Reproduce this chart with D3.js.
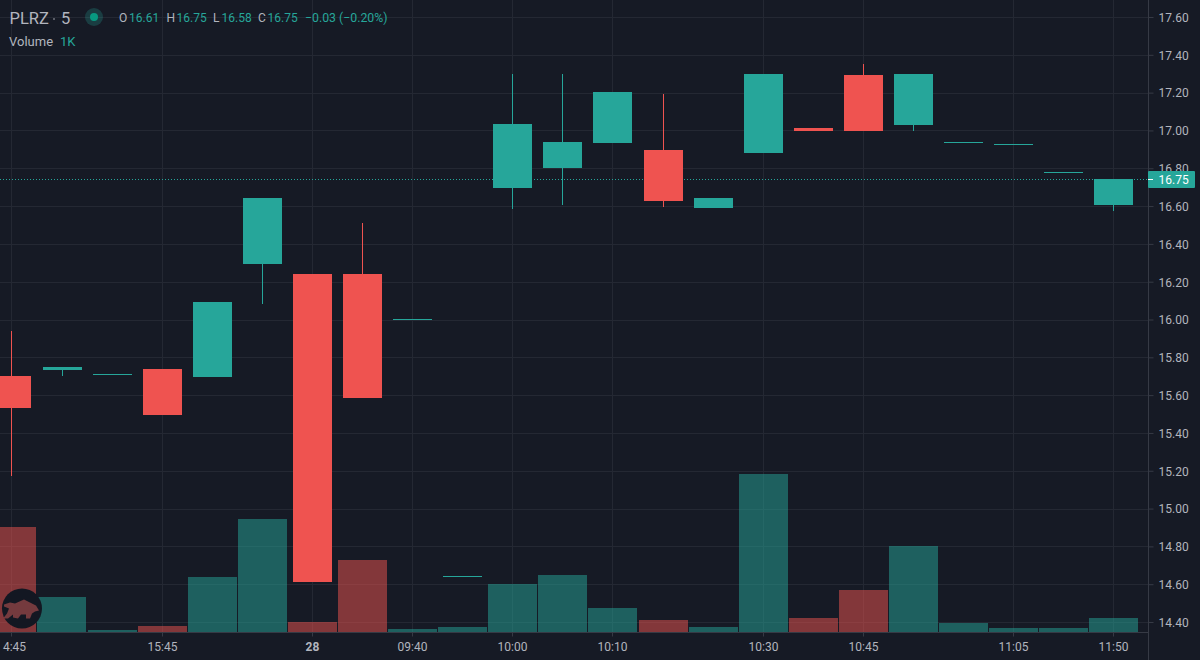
<!DOCTYPE html>
<html>
<head>
<meta charset="utf-8">
<script src="https://cdn.jsdelivr.net/npm/d3@7"></script>
<style>
  html, body { margin: 0; padding: 0; background: #161a25; overflow: hidden; }
  text { font-family: Roboto, sans-serif; }
</style>
</head>
<body>
<div id="chart-area"></div>
<script>
const width = 1200;
const height = 660;

// one entry per 5 minute bar
const opens  = [15.70, 15.735, 15.71, 15.74, 15.695, 16.295, 16.24, 16.24, 16.005, 14.645, 16.695, 16.80, 16.935, 16.895, 16.59, 16.88, 17.015, 17.295, 17.03, 16.94, 16.93, 16.78, 16.605];
const closes = [15.53, 15.75, 15.71, 15.495, 16.09, 16.645, 14.61, 15.585, 16.005, 14.645, 17.035, 16.94, 17.205, 16.625, 16.645, 17.30, 16.995, 16.995, 17.30, 16.94, 16.93, 16.78, 16.743];
const highs  = [15.94, 15.75, 15.71, 15.74, 16.09, 16.645, 16.24, 16.51, 16.005, 14.645, 17.30, 17.30, 17.205, 17.195, 16.645, 17.30, 17.015, 17.35, 17.30, 16.94, 16.93, 16.78, 16.743];
const lows   = [15.17, 15.70, 15.71, 15.495, 15.695, 16.08, 14.61, 15.585, 16.005, 14.645, 16.585, 16.605, 16.935, 16.595, 16.59, 16.88, 16.995, 16.995, 16.995, 16.94, 16.93, 16.78, 16.575];
const volumes = [7500, 2500, 150, 430, 3950, 8100, 700, 5150, 200, 350, 3420, 4100, 1700, 850, 350, 11300, 1000, 3000, 6150, 650, 300, 300, 1000];

const priceTicks = [14.4, 14.6, 14.8, 15.0, 15.2, 15.4, 15.6, 15.8, 16.0, 16.2, 16.4, 16.6, 16.8, 17.0, 17.2, 17.4, 17.6];
const timeTickBars = [0, 3, 6, 8, 10, 12, 15, 17, 20, 22];
const timeTickLabels = ["4:45", "15:45", "28", "09:40", "10:00", "10:10", "10:30", "10:45", "11:05", "11:50"];
const lastPrice = 16.743;
const lastPriceLabel = "16.75";

const legendLetters = ["O", "H", "L", "C"];
const legendValues = ["16.61", "16.75", "16.58", "16.75"];
const legendChange = "\u22120.03 (\u22120.20%)";

const upColor = "#26a69a";
const downColor = "#ef5350";
const gridColor = "#242833";
const axisColor = "#363a45";
const labelColor = "#b2b5be";

const bars = opens.map((o, i) => ({
    i: i, open: o, close: closes[i], high: highs[i], low: lows[i], volume: volumes[i]
}));

const svg = d3.select("#chart-area")
    .append("svg")
    .attr("width", width)
    .attr("height", height)
    .style("display", "block");

svg.append("rect").attr("width", width).attr("height", height).attr("fill", "#161a25");

const plotRight = 1148;
const plotBottom = 632;

const x = d3.scaleLinear().domain([0, 22]).range([11.915, 1113.895]);
const y = d3.scaleLinear().domain([14.4, 17.6]).range([622, 17]);
const yVolume = d3.scaleLinear().domain([0, 11300]).range([plotBottom, 474]);

const bodyWidth = 39;
const volumeWidth = 49;

// everything snaps to whole pixels like the canvas original
const bodyLeft = d => Math.round(x(d) - bodyWidth / 2);
const barMid = d => bodyLeft(d) + 19.5;
const py = v => Math.round(y(v));

function barColor(d) {
    return d.close >= d.open ? upColor : downColor;
}

// grid
const grid = svg.append("g").attr("shape-rendering", "crispEdges");
grid.selectAll(".hgrid")
    .data(priceTicks)
    .enter()
    .append("line")
    .attr("x1", 0)
    .attr("x2", plotRight)
    .attr("y1", d => py(d) + 0.5)
    .attr("y2", d => py(d) + 0.5)
    .attr("stroke", gridColor);
grid.selectAll(".vgrid")
    .data(timeTickBars)
    .enter()
    .append("line")
    .attr("x1", d => barMid(d))
    .attr("x2", d => barMid(d))
    .attr("y1", 0)
    .attr("y2", plotBottom)
    .attr("stroke", gridColor);

// volume
svg.append("g")
    .attr("shape-rendering", "crispEdges")
    .selectAll("rect")
    .data(bars)
    .enter()
    .append("rect")
    .attr("x", d => Math.round(x(d.i) - volumeWidth / 2 - 0.05))
    .attr("y", d => Math.round(yVolume(d.volume)))
    .attr("width", volumeWidth)
    .attr("height", d => plotBottom - Math.round(yVolume(d.volume)))
    .attr("fill", d => d.close >= d.open ? upColor : downColor)
    .attr("opacity", 0.5);

// last price line
svg.append("line")
    .attr("x1", 0)
    .attr("x2", plotRight)
    .attr("y1", py(lastPrice) + 0.5)
    .attr("y2", py(lastPrice) + 0.5)
    .attr("stroke", upColor)
    .attr("stroke-dasharray", "1 2");

// wicks
svg.append("g")
    .attr("shape-rendering", "crispEdges")
    .selectAll("rect")
    .data(bars)
    .enter()
    .append("rect")
    .attr("x", d => barMid(d.i) - 0.5)
    .attr("y", d => py(d.high))
    .attr("width", 1)
    .attr("height", d => py(d.low) - py(d.high))
    .attr("fill", barColor);

// bodies, a flat bar still shows a 1px line
svg.append("g")
    .attr("shape-rendering", "crispEdges")
    .selectAll("rect")
    .data(bars)
    .enter()
    .append("rect")
    .attr("x", d => bodyLeft(d.i))
    .attr("y", d => py(Math.max(d.open, d.close)))
    .attr("width", bodyWidth)
    .attr("height", d => Math.max(1, py(Math.min(d.open, d.close)) - py(Math.max(d.open, d.close))))
    .attr("fill", barColor);

// logo
const logo = svg.append("g").attr("transform", "translate(22, 608.5)");
logo.append("circle").attr("r", 20).attr("fill", "#131722");
logo.append("path")
    .attr("d", "M-18,-4 L-12,-6 L-7,-5 L2,-9 L8,-6 L14,-3 L17,2 L13,3 L10,5 L8,10 L4,10 L4,6 L-1,6 L-4,10 L-9,9 L-9,6 L-14,10 L-19,10 L-15,5 L-13,0 L-18,-2 Z")
    .attr("fill", "#743a3e");

// axes panel
svg.append("rect").attr("x", plotRight).attr("y", 0).attr("width", width - plotRight).attr("height", height).attr("fill", "#161a25");
svg.append("rect").attr("x", 0).attr("y", plotBottom).attr("width", width).attr("height", height - plotBottom).attr("fill", "#161a25");

const yAxis = d3.axisRight(y)
    .tickValues(priceTicks)
    .tickFormat(d3.format(".2f"))
    .tickSize(5)
    .tickPadding(5);
const yAxisG = svg.append("g")
    .attr("transform", `translate(${plotRight + 0.5}, 0)`)
    .call(yAxis);
yAxisG.select(".domain").attr("d", `M0,0V${height}`).attr("stroke", axisColor);
yAxisG.selectAll(".tick line").attr("stroke", axisColor);
yAxisG.selectAll("text")
    .attr("fill", labelColor)
    .attr("font-size", 12)
    .attr("dy", "0.36em")
    .attr("font-family", "Roboto, sans-serif");

const xAxis = d3.axisBottom(x)
    .tickValues(timeTickBars)
    .tickFormat((d, i) => timeTickLabels[i])
    .tickSize(4)
    .tickPadding(6);
const xAxisG = svg.append("g")
    .attr("transform", `translate(0, ${plotBottom + 0.5})`)
    .call(xAxis);
xAxisG.select(".domain").attr("d", `M0,0H${plotRight}`).attr("stroke", axisColor);
xAxisG.selectAll(".tick")
    .attr("transform", d => `translate(${barMid(d)}, 0)`);
xAxisG.selectAll(".tick line").attr("stroke", axisColor);
xAxisG.selectAll("text")
    .attr("fill", labelColor)
    .attr("font-size", 12)
    .attr("font-family", "Roboto, sans-serif")
    .attr("font-weight", d => d === 6 ? 700 : 400)
    // the first label sits against the left edge of the picture
    .attr("dx", d => d === 0 ? 3 : 0);

// last price tag
svg.append("rect")
    .attr("x", plotRight)
    .attr("y", py(lastPrice) - 8)
    .attr("width", 47)
    .attr("height", 17)
    .attr("rx", 1)
    .attr("fill", upColor);
svg.append("line")
    .attr("x1", plotRight)
    .attr("x2", plotRight + 5)
    .attr("y1", py(lastPrice) + 0.5)
    .attr("y2", py(lastPrice) + 0.5)
    .attr("stroke", "#fff");
svg.append("text")
    .attr("x", plotRight + 10.5)
    .attr("y", py(lastPrice) + 5)
    .attr("fill", "#fff")
    .attr("font-size", 12)
    .text(lastPriceLabel);

// legend
svg.append("text").attr("x", 9.5).attr("y", 24).attr("fill", labelColor).attr("font-size", 16.5).text("PLRZ");
svg.append("circle").attr("cx", 54).attr("cy", 19).attr("r", 0.8).attr("fill", labelColor);
svg.append("text").attr("x", 61).attr("y", 24).attr("fill", labelColor).attr("font-size", 16.5).text("5");
svg.append("circle").attr("cx", 94).attr("cy", 17).attr("r", 9).attr("fill", upColor).attr("opacity", 0.25);
svg.append("circle").attr("cx", 94).attr("cy", 17).attr("r", 4).attr("fill", "#089981");

const letterX = [119, 166.5, 213, 258];
const valueX = [129, 176.5, 221.5, 267.5];
const ohlc = svg.append("text").attr("y", 22).attr("font-size", 12).attr("fill", upColor);
legendLetters.forEach(function(letter, i) {
    ohlc.append("tspan").attr("x", letterX[i]).attr("fill", labelColor).text(letter);
    ohlc.append("tspan").attr("x", valueX[i]).text(legendValues[i]);
});
ohlc.append("tspan").attr("x", 305).attr("font-size", 12.3).text(legendChange);

svg.append("text").attr("x", 9).attr("y", 46).attr("fill", labelColor).attr("font-size", 13).text("Volume");
svg.append("text").attr("x", 60).attr("y", 46).attr("fill", upColor).attr("font-size", 13).text("1K");
</script>
</body>
</html>
